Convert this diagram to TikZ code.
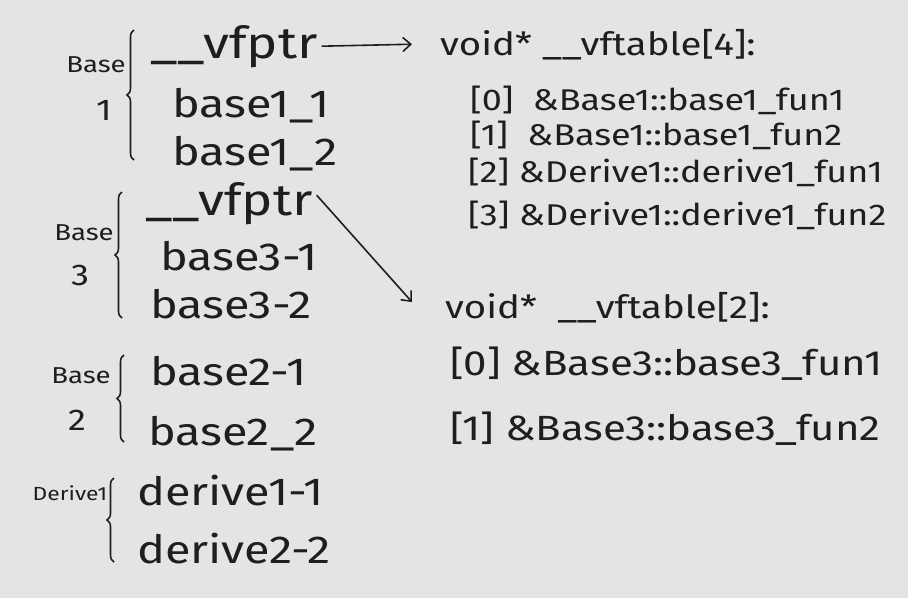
\documentclass[tikz,border=0pt]{standalone}
\usepackage{fontspec}
\setmainfont[FakeStretch=1.2]{Fira Sans}
\usetikzlibrary{arrows.meta, decorations.pathreplacing}
\definecolor{paper}{HTML}{E4E4E4}
\definecolor{ink}{HTML}{1E1E1E}

\begin{document}
\begin{tikzpicture}[x=1pt, y=-1pt,
  member/.style={anchor=base west, inner sep=0pt, text=ink, font=\fontsize{39}{39}\selectfont},
  vptr/.style={member, font=\fontsize{44}{44}\selectfont},
  slot/.style={anchor=base west, inner sep=0pt, text=ink, font=\fontsize{30}{30}\selectfont},
  bigslot/.style={slot, font=\fontsize{35}{35}\selectfont},
  tabhead/.style={anchor=base west, inner sep=0pt, text=ink, font=\fontsize{32}{32}\selectfont},
  cls/.style={anchor=base, inner sep=0pt, text=ink, font=\fontsize{23}{23}\selectfont},
  clsnum/.style={cls, font=\fontsize{30}{30}\selectfont},
  grp/.style={draw=ink, line width=1.6pt, decorate, decoration={brace, amplitude=7pt}},
  ptr/.style={draw=ink, line width=1.6pt, -{Straight Barb[length=8pt,width=14pt]}}]

\fill[paper] (0,0) rectangle (908,598);

% Base1
\node[cls] (c1a) at (96,72) {Base};
\node[clsnum] (c1b) at (104,120) {1};
\draw[grp] (134,160) -- (134,30);
\node[vptr] (b1ptr) at (150,58) {\_\_vfptr};
\node[member] (b1m1) at (172,117) {base1\_1};
\node[member] (b1m2) at (172,165) {base1\_2};

% Base3
\node[cls] (c3a) at (84,240) {Base};
\node[clsnum] (c3b) at (80,285) {3};
\draw[grp] (122,318) -- (122,192);
\node[vptr] (b3ptr) at (145,215) {\_\_vfptr};
\node[member] (b3m1) at (160,270) {base3-1};
\node[member] (b3m2) at (150,318) {base3-2};

% Base2
\node[cls] (c2a) at (81,383) {Base};
\node[clsnum] (c2b) at (77,430) {2};
\draw[grp] (124,442) -- (124,355);
\node[member] (b2m1) at (150,385) {base2-1};
\node[member] (b2m2) at (148,445) {base2\_2};

% Derive
\node[cls, font=\fontsize{19}{19}\selectfont] (cd) at (70,500) {Derive1};
\draw[grp] (114,562) -- (114,478);
\node[member] (dm1) at (137,505) {derive1-1};
\node[member] (dm2) at (137,563) {derive2-2};

% vftable of Base1
\node[tabhead] (tab1) at (440,55) {void* \_\_vftable[4]:};
\node[slot] (t1s0) at (470,110) {[0]\ \ \&Base1::base1\_fun1};
\node[slot] (t1s1) at (470,145) {[1]\ \ \&Base1::base1\_fun2};
\node[slot] (t1s2) at (468,182) {[2]\ \&Derive1::derive1\_fun1};
\node[slot] (t1s3) at (468,225) {[3]\ \&Derive1::derive1\_fun2};

% vftable of Base3
\node[tabhead] (tab2) at (445,318) {void* \ \_\_vftable[2]:};
\node[bigslot] (t2s0) at (450,375) {[0]\ \&Base3::base3\_fun1};
\node[bigslot] (t2s1) at (450,440) {[1]\ \&Base3::base3\_fun2};

\coordinate (tip2) at (412,302);
\draw[ptr] ([xshift=4pt]b1ptr.east) -- ([xshift=-28pt]tab1.west);
\draw[ptr] ([xshift=4pt,yshift=8pt]b3ptr.east) -- (tip2);
\end{tikzpicture}
\end{document}
